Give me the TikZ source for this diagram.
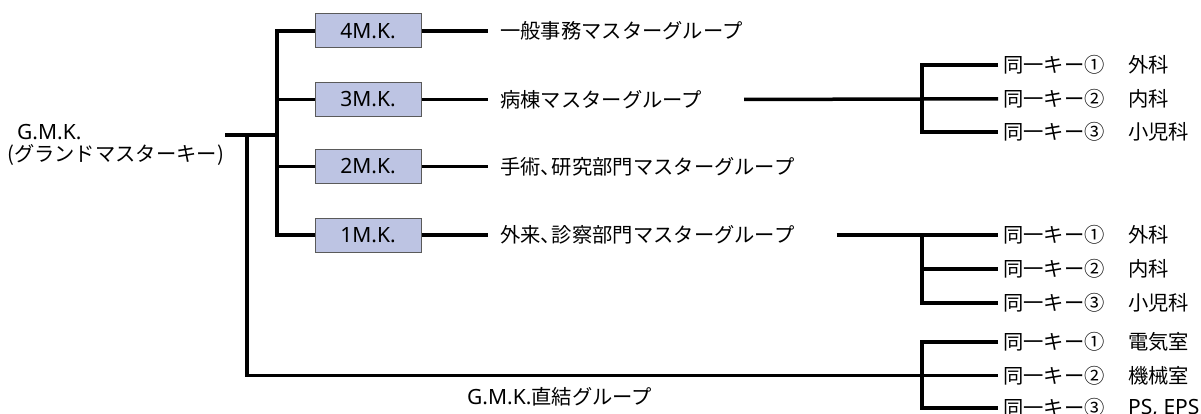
\documentclass[tikz,border=0pt]{standalone}
\usepackage{fontspec}
\setmainfont{Noto Sans CJK JP}
\newfontfamily\lat{Noto Sans}
\newcommand{\hcomma}{\makebox[0.55em][l]{、}}
\definecolor{boxfill}{RGB}{189,196,227}
\definecolor{boxdraw}{RGB}{90,90,90}
\begin{document}
\begin{tikzpicture}[x=1pt,y=-1pt,
  ln/.style={line width=3.5pt,line join=miter,line cap=butt},
  mkbox/.style={draw=boxdraw,line width=1pt,fill=boxfill,minimum width=106pt,minimum height=34pt,inner sep=0pt,font=\fontsize{21}{22}\selectfont\lat},
  lbl/.style={anchor=west,inner sep=0pt,font=\fontsize{20.3}{22}\selectfont}]
\useasboundingbox (0,0) rectangle (1201,414);
% G.M.K.
\node[lbl,font=\fontsize{21}{22}\selectfont\lat] (gmk1) at (17,132) {G.M.K.};
\node[lbl] (gmk2) at (7,155) {(グランドマスターキー)};
\coordinate (gmkR) at (225,135);
\coordinate (jb) at (247,135);
\coordinate (j0) at (277,135);
% boxes
\node[mkbox] (m4) at (368,31) {4M.K.};
\node[mkbox] (m3) at (368,99.5) {3M.K.};
\node[mkbox] (m2) at (368,166.5) {2M.K.};
\node[mkbox] (m1) at (368,235) {1M.K.};
% group labels
\node[lbl] (g4) at (500,31) {一般事務マスターグループ};
\node[lbl] (g3) at (500,99.5) {病棟マスターグループ};
\node[lbl] (g2) at (500,166.5) {手術\hcomma 研究部門マスターグループ};
\node[lbl] (g1) at (500,235) {外来\hcomma 診察部門マスターグループ};
\node[lbl] (gd) at (467,397) {{\fontsize{21}{22}\selectfont\lat G.M.K.}直結グループ};
% junctions on the right
\coordinate (jr1) at (922,99);
\coordinate (jr2) at (922,235);
\coordinate (jr3) at (922,375.5);
% key labels
\node[lbl] (k11) at (1003,65) {同一キー①};
\node[lbl] (k12) at (1003,99) {同一キー②};
\node[lbl] (k13) at (1003,132) {同一キー③};
\node[lbl] (d11) at (1128,65) {外科};
\node[lbl] (d12) at (1128,99) {内科};
\node[lbl] (d13) at (1128,132) {小児科};
\node[lbl] (k21) at (1003,235) {同一キー①};
\node[lbl] (k22) at (1003,269) {同一キー②};
\node[lbl] (k23) at (1003,303) {同一キー③};
\node[lbl] (d21) at (1128,235) {外科};
\node[lbl] (d22) at (1128,269) {内科};
\node[lbl] (d23) at (1128,303) {小児科};
\node[lbl] (k31) at (1003,342) {同一キー①};
\node[lbl] (k32) at (1003,375.5) {同一キー②};
\node[lbl] (k33) at (1003,408) {同一キー③};
\node[lbl] (d31) at (1128,342) {電気室};
\node[lbl] (d32) at (1128,375.5) {機械室};
\node[lbl,font=\fontsize{21}{22}\selectfont\lat] (d33) at (1128,408) {PS, EPS};
% connectors: G.M.K. to boxes
\draw[ln] (gmkR) -- (j0);
\draw[ln] (m4.west) -| (j0) |- (m1.west);
\draw[ln] (j0) |- (m3.west);
\draw[ln] (j0) |- (m2.west);
% boxes to group labels
\foreach \i in {4,3,2,1}{
  \draw[ln] (m\i.east) -- ([xshift=-12pt]g\i.west);
}
% groups to key brackets
\draw[ln] ([xshift=42pt]g3.east) -- (jr1) -- ([xshift=-5pt]k12.west);
\draw[ln] ([xshift=-5pt]k11.west) -| (jr1) |- ([xshift=-5pt]k13.west);
\draw[ln] ([xshift=42pt]g1.east) -- (jr2) -- ([xshift=-5pt]k21.west);
\draw[ln] (jr2) |- ([xshift=-5pt]k22.west);
\draw[ln] (jr2) |- ([xshift=-5pt]k23.west);
\draw[ln] (jb) |- (jr3) -- ([xshift=-5pt]k32.west);
\draw[ln] ([xshift=-5pt]k31.west) -| (jr3) |- ([xshift=-5pt]k33.west);
\end{tikzpicture}
\end{document}
